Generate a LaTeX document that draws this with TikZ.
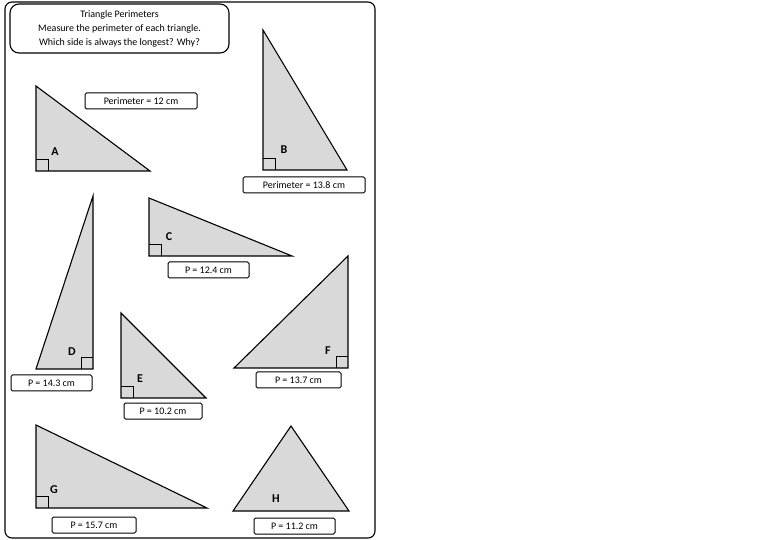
\documentclass[tikz,border=0pt]{standalone}
\usepackage{fontspec}
\setmainfont{Carlito}
\begin{document}
\begin{tikzpicture}[x=1pt,y=-1pt,
  tri/.style={draw,fill=gray!30,line width=1.1pt,line join=miter},
  sq/.style={draw,line width=0.9pt},
  pbox/.style={draw,line width=1pt,rounded corners=1.5pt,fill=white,minimum height=16pt,inner sep=1pt,font=\fontsize{10}{12}\selectfont},
  lab/.style={font=\bfseries\fontsize{12}{14}\selectfont}]
\useasboundingbox (0,0) rectangle (780,540);
\draw[line width=1.1pt,rounded corners=7pt] (5,2) rectangle (375,538);
\node[draw,line width=1.1pt,rounded corners=9pt,minimum width=219pt,minimum height=49pt,align=center,font=\fontsize{10}{14}\selectfont,inner sep=0pt] (title) at (119.5,28.5) {Triangle Perimeters\\Measure the perimeter of each triangle.\\Which side is always the longest? Why?};
% A
\draw[tri] (36,86) -- (36,171) -- (150,171) -- cycle;
\draw[sq] (36,159) -- (48,159) -- (48,171);
\node[lab] (la) at (55,152) {A};
\node[pbox,minimum width=112pt] (pa) at (141,101) {Perimeter = 12 cm};
% B
\draw[tri] (263,30) -- (263,170) -- (347,170) -- cycle;
\draw[sq] (263,158) -- (275,158) -- (275,170);
\node[lab] (lb) at (284,150) {B};
\node[pbox,minimum width=122pt] (pb) at (304,185) {Perimeter = 13.8 cm};
% C
\draw[tri] (149,198) -- (149,256) -- (292,256) -- cycle;
\draw[sq] (149,244) -- (161,244) -- (161,256);
\node[lab] (lc) at (169,237) {C};
\node[pbox,minimum width=81pt] (pc) at (208.5,270) {P = 12.4 cm};
% D
\draw[tri] (93,196) -- (93,369) -- (36,369) -- cycle;
\draw[sq] (93,357) -- (81,357) -- (81,369);
\node[lab] (ld) at (72,352) {D};
\node[pbox,minimum width=81pt] (pd) at (51.5,383) {P = 14.3 cm};
% E
\draw[tri] (121,313) -- (121,398) -- (206,398) -- cycle;
\draw[sq] (121,386) -- (133,386) -- (133,398);
\node[lab] (le) at (140,379) {E};
\node[pbox,minimum width=78pt] (pe) at (163,411) {P = 10.2 cm};
% F
\draw[tri] (348,256) -- (348,368) -- (234,368) -- cycle;
\draw[sq] (348,356) -- (336,356) -- (336,368);
\node[lab] (lf) at (328,351) {F};
\node[pbox,minimum width=85pt] (pf) at (298.5,380) {P = 13.7 cm};
% G
\draw[tri] (36,425) -- (36,508) -- (207,508) -- cycle;
\draw[sq] (36,496) -- (48,496) -- (48,508);
\node[lab] (lg) at (54,490) {G};
\node[pbox,minimum width=84pt] (pg) at (94,525) {P = 15.7 cm};
% H
\draw[tri] (291,426) -- (349,511) -- (233,511) -- cycle;
\node[lab] (lh) at (276,499) {H};
\node[pbox,minimum width=81pt] (ph) at (294.5,526) {P = 11.2 cm};
\end{tikzpicture}
\end{document}
